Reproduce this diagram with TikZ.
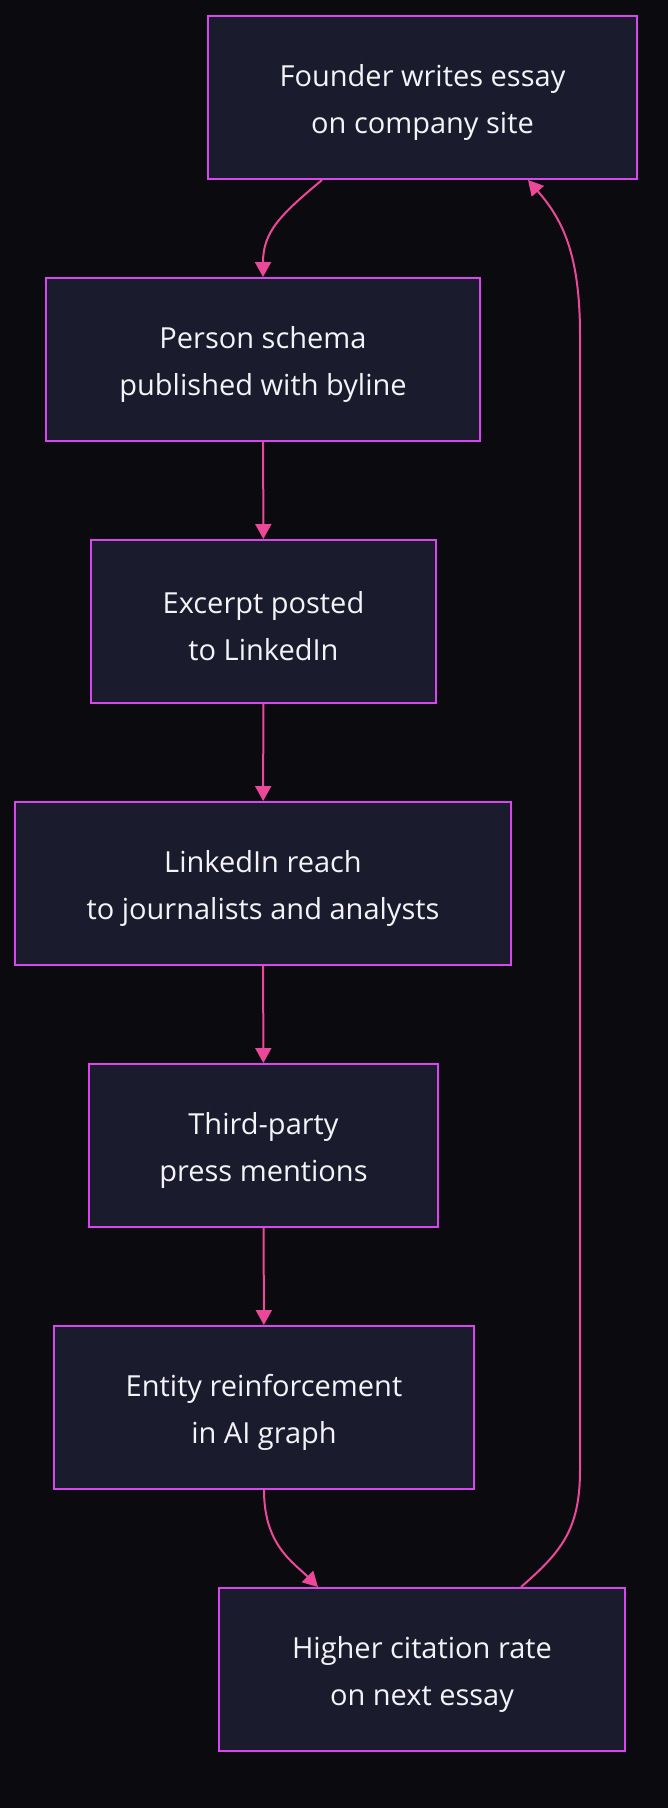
\documentclass[tikz,border=0pt]{standalone}
\usepackage{fontspec}
\setmainfont{Open Sans}
\usepackage{tikz}
\usetikzlibrary{arrows.meta,positioning}

\definecolor{bgdark}{HTML}{0A0A0F}
\definecolor{boxfill}{HTML}{1B1B2E}
\definecolor{boxline}{HTML}{D946EF}
\definecolor{flowpink}{HTML}{EC4899}
\definecolor{txt}{HTML}{F4F4F8}

\begin{document}
\begin{tikzpicture}[x=1pt,y=-1pt,
	box/.style={draw=boxline,fill=boxfill,line width=2pt,minimum height=163pt,
		align=center,text=txt,inner sep=0pt,font=\fontsize{29}{47}\selectfont,
		execute at begin node={\rule{0pt}{78pt}}},
	flow/.style={draw=flowpink,line width=2pt,-{Triangle[length=15pt,width=16pt]}}]
	\fill[bgdark] (0,0) rectangle (668,1808);
	\node[box,minimum width=429pt] (founder) at (422.5,97.5) {Founder writes essay\\on company site};
	\node[box,minimum width=434pt] (schema) at (263,359.5) {Person schema\\published with byline};
	\node[box,minimum width=345pt] (excerpt) at (263.5,621.5) {Excerpt posted\\to LinkedIn};
	\node[box,minimum width=496pt] (reach) at (263,883.5) {LinkedIn reach\\to journalists and analysts};
	\node[box,minimum width=349pt] (press) at (263.5,1145.5) {Third-party\\press mentions};
	\node[box,minimum width=420pt] (entity) at (264,1407.5) {Entity reinforcement\\in AI graph};
	\node[box,minimum width=406pt] (citation) at (422,1669.5) {Higher citation rate\\on next essay};
	% forward chain
	\draw[flow] ([xshift=-100.5pt]founder.south) .. controls +(-42,35) and +(0,-45) .. (schema.north);
	\draw[flow] (schema) -- (excerpt);
	\draw[flow] (excerpt) -- (reach);
	\draw[flow] (reach) -- (press);
	\draw[flow] (press) -- (entity);
	\draw[flow] (entity.south) .. controls +(0,55) and +(-25,-25) .. ([xshift=-104pt]citation.north);
	% loop back
	\draw[flow] ([xshift=99pt]citation.north) .. controls +(40,-35) and +(0,60) .. (580,1470)
		-- (580,335) .. controls +(0,-80) and +(35,40) .. ([xshift=105.5pt]founder.south);
\end{tikzpicture}
\end{document}
